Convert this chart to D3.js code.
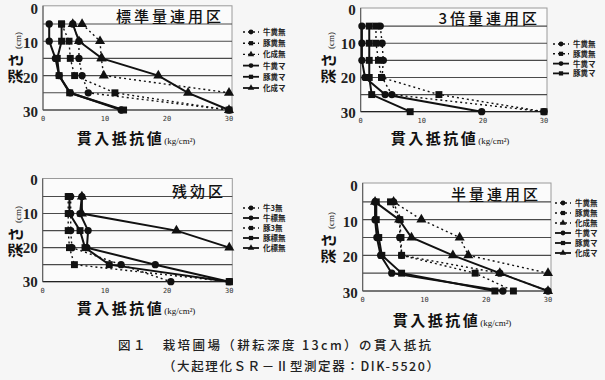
<!DOCTYPE html>
<html><head><meta charset="utf-8">
<script src="https://cdn.jsdelivr.net/npm/d3@7"></script>
<style>
html,body{margin:0;padding:0;background:#f6f6f6;}
svg{display:block;}
</style></head>
<body>
<svg id="c" width="605" height="380"></svg>
<script>
// ---------------- DATA ----------------
const depths = [5, 10, 15, 20, 25, 30];
const yTicks = [0, 10, 20, 30];
const xTicks = [0, 10, 20, 30];
const gridDepths = [5, 10, 15, 20, 25];

// Panel 1: 標準量連用区
const p1Title = "標準量連用区";
const p1Names = ["牛糞無", "豚糞無", "化成無", "牛糞マ", "豚糞マ", "化成マ"];
const p1CowNone  = [4.8, 5.8, 5.8, 6.3, 7.3, 30];
const p1PigNone  = [3.0, 4.2, 4.4, 5.1, 11.6, 30];
const p1ChemNone = [6.3, 9.2, 9.4, 9.8, 30, null];
const p1CowMulch = [1.0, 1.0, 2.0, 2.6, 4.4, 12.6];
const p1PigMulch = [3.0, 3.0, 2.3, 2.6, 4.3, 13.0];
const p1ChemMulch= [4.8, 5.8, 9.5, 18.6, 23.4, 30];

// Panel 2: 3倍量連用区
const p2Title = "3倍量連用区";
const p2Names = ["牛糞無", "豚糞無", "牛糞マ", "豚糞マ"];
const p2CowNone  = [3.2, 3.5, 3.7, 3.5, 5.1, 30];
const p2PigNone  = [2.5, 2.5, 2.9, 3.4, 12.8, 30];
const p2CowMulch = [0.2, 0.2, 0.2, 0.7, 4.0, 19.8];
const p2PigMulch = [1.4, 1.4, 1.4, 1.4, 1.8, 8.1];

// Panel 3: 残効区
const p3Title = "残効区";
const p3Names = ["牛3無", "牛標無", "豚3無", "豚標無", "化標無"];
const p3Cow3  = [4.5, 4.5, 4.5, 4.7, 12.6, 20.6];
const p3CowStd= [6.3, 6.0, 7.3, 7.1, 18.1, 30];
const p3Pig3  = [4.1, 4.1, 4.1, 4.3, 5.1, 30];
const p3PigStd= [4.3, 4.3, 6.0, 6.8, 10.7, 30];
const p3ChemStd=[6.3, 6.3, 21.5, 30, null, null];

// Panel 4: 半量連用区
const p4Title = "半量連用区";
const p4Names = ["牛糞無", "豚糞無", "化成無", "牛糞マ", "豚糞マ", "化成マ"];
const p4CowNone  = [5.0, 6.0, 6.0, 6.3, 22.2, 30];
const p4PigNone  = [4.5, 6.0, 6.2, 6.3, 18.2, 24.4];
const p4ChemNone = [5.0, 9.5, 15.7, 17.1, 30, null];
const p4CowMulch = [2.0, 2.0, 2.3, 2.9, 4.7, 22.7];
const p4PigMulch = [2.2, 2.2, 2.6, 3.1, 6.3, 21.4];
const p4ChemMulch= [2.0, 5.9, 7.9, 14.6, 22.2, 30];

const xTitle = "貫入抵抗値";
const xUnit = "(kg/cm²)";
const yTitle = "深さ";
const yUnit = "(cm)";
const caption1 = "図１　栽培圃場（耕耘深度 13cm）の貫入抵抗";
const caption2 = "（大起理化ＳＲ－Ⅱ型測定器：DIK-5520）";

// ---------------- STYLE / LAYOUT ----------------
const svg = d3.select("#c");
svg.append("rect").attr("width", 605).attr("height", 380).attr("fill", "#f6f6f6");

const JP = "'Noto Sans CJK JP', 'Noto Sans', sans-serif";
const SERIF = "'Liberation Serif', 'DejaVu Serif', serif";

function symType(shape) {
  return shape === "circle" ? d3.symbolCircle : shape === "square" ? d3.symbolSquare : d3.symbolTriangle;
}
function sym(shape) {
  const s = shape === "circle" ? 42 : shape === "square" ? 48 : 44;
  return d3.symbol().type(symType(shape)).size(s)();
}

function panel(cfg) {
  const g = svg.append("g");
  const x = d3.scaleLinear().domain([0, 30]).range([cfg.x0, cfg.x1]);
  const y = d3.scaleLinear().domain([0, 30]).range([cfg.yTop, cfg.yBot]);

  // plot frame
  g.append("rect").attr("x", cfg.x0).attr("y", cfg.yTop - 1)
    .attr("width", cfg.x1 - cfg.x0 + 3).attr("height", cfg.yBot - cfg.yTop + 1)
    .attr("fill", "#fbfbfb").attr("stroke", "#9a9a9a").attr("stroke-width", 1);
  // gridlines
  g.selectAll(".grid").data(gridDepths).join("line")
    .attr("x1", cfg.x0).attr("x2", cfg.x1 + 3)
    .attr("y1", d => y(d)).attr("y2", d => y(d))
    .attr("stroke", "#4a4a4a").attr("stroke-width", 1.1);
  // axes lines
  g.append("line").attr("x1", cfg.x0).attr("x2", cfg.x1 + 3).attr("y1", y(30)).attr("y2", y(30))
    .attr("stroke", "#222").attr("stroke-width", 1.2);
  g.append("line").attr("x1", cfg.x0).attr("x2", cfg.x0).attr("y1", cfg.yTop - 1).attr("y2", y(30))
    .attr("stroke", "#555").attr("stroke-width", 1);

  // y tick labels
  g.selectAll(".yl").data(yTicks).join("text")
    .attr("x", cfg.x0 - 5).attr("y", d => y(d) + 5 + (cfg.yLabDy || 0))
    .attr("text-anchor", "end").attr("font-family", SERIF).attr("font-weight", "bold")
    .attr("font-size", 15).attr("fill", "#222").text(d => d);
  // x tick labels
  g.selectAll(".xl").data(xTicks).join("text")
    .attr("x", d => x(d)).attr("y", y(30) + 11)
    .attr("text-anchor", "middle").attr("font-family", "'DejaVu Sans Mono', monospace")
    .attr("font-size", 7).attr("fill", "#333").text(d => d);

  // x title
  const xt = g.append("text").attr("x", cfg.xtX).attr("y", cfg.xtY)
    .attr("text-anchor", "middle").attr("fill", "#111").attr("font-family", JP);
  xt.append("tspan").attr("font-size", 15).attr("font-weight", "bold").attr("letter-spacing", 2.5).text(xTitle);
  xt.append("tspan").attr("font-size", 9).attr("font-family", SERIF).text(xUnit);

  // y title (rotated)
  const yt = g.append("text").attr("transform", `translate(${cfg.ytX},${cfg.ytY}) rotate(-90)`)
    .attr("text-anchor", "middle").attr("fill", "#111").attr("font-family", JP);
  yt.append("tspan").attr("font-size", 15).attr("font-weight", "bold").attr("letter-spacing", 1).text(yTitle);
  yt.append("tspan").attr("font-size", 9).attr("dx", 3).attr("font-family", SERIF).text(yUnit);

  // panel title
  g.append("text").attr("x", cfg.titleX).attr("y", cfg.titleY)
    .attr("text-anchor", "end").attr("font-family", JP).attr("font-size", 15)
    .attr("font-weight", 500).attr("letter-spacing", 3).attr("fill", "#111").text(cfg.title);

  // series
  const line = d3.line().defined(d => d.v != null).x(d => x(d.v)).y(d => y(d.d));
  cfg.series.forEach(s => {
    const pts = depths.map((d, i) => ({ d: d, v: s.values[i] }));
    g.append("path").datum(pts).attr("d", line).attr("fill", "none")
      .attr("stroke", "#111")
      .attr("stroke-width", s.dash ? 1.4 : 2)
      .attr("stroke-dasharray", s.dash ? "2,3" : null);
  });
  cfg.series.forEach(s => {
    const pts = depths.map((d, i) => ({ d: d, v: s.values[i] })).filter(p => p.v != null);
    g.selectAll(null).data(pts).join("path")
      .attr("transform", p => `translate(${x(p.v)},${y(p.d)})`)
      .attr("d", sym(s.shape)).attr("fill", "#111");
  });

  // legend
  cfg.series.forEach((s, i) => {
    const ly = cfg.legY + i * cfg.legDy;
    const lx = cfg.legX;
    g.append("line").attr("x1", lx).attr("x2", lx + 16).attr("y1", ly).attr("y2", ly)
      .attr("stroke", "#111").attr("stroke-width", s.dash ? 1.4 : 1.8)
      .attr("stroke-dasharray", s.dash ? "2,3" : null);
    g.append("path").attr("transform", `translate(${lx + 8},${ly})`)
      .attr("d", d3.symbol().type(symType(s.shape)).size(18)())
      .attr("fill", "#111");
    g.append("text").attr("x", lx + 20).attr("y", ly + 3)
      .attr("font-family", JP).attr("font-size", 7.5).attr("font-weight", "bold")
      .attr("fill", "#222").text(s.name);
  });
}

const shapes6 = ["circle", "square", "triangle", "circle", "square", "triangle"];
const dash6 = [true, true, true, false, false, false];

panel({
  title: p1Title, x0: 43, x1: 229, yTop: 6.8, yBot: 110, yLabDy: 2,
  titleX: 224, titleY: 22, xtX: 136, xtY: 144, ytX: 21, ytY: 58,
  legX: 243, legY: 32, legDy: 11.2,
  series: [p1CowNone, p1PigNone, p1ChemNone, p1CowMulch, p1PigMulch, p1ChemMulch]
    .map((v, i) => ({ name: p1Names[i], values: v, shape: shapes6[i], dash: dash6[i] }))
});

panel({
  title: p2Title, x0: 360.7, x1: 544, yTop: 9, yBot: 111.7, yLabDy: 1,
  titleX: 540, titleY: 24, xtX: 450, xtY: 144, ytX: 334, ytY: 58,
  legX: 553, legY: 44, legDy: 9.8,
  series: [p2CowNone, p2PigNone, p2CowMulch, p2PigMulch]
    .map((v, i) => ({ name: p2Names[i], values: v, shape: ["circle", "square", "circle", "square"][i], dash: [true, true, false, false][i] }))
});

panel({
  title: p3Title, x0: 42.7, x1: 229.3, yTop: 179.5, yBot: 281.7, yLabDy: 0,
  titleX: 226, titleY: 197, xtX: 136, xtY: 314, ytX: 21, ytY: 232,
  legX: 243, legY: 208, legDy: 10,
  series: [p3Cow3, p3CowStd, p3Pig3, p3PigStd, p3ChemStd]
    .map((v, i) => ({ name: p3Names[i], values: v, shape: ["circle", "circle", "square", "square", "triangle"][i], dash: [true, false, true, false, false][i] }))
});

panel({
  title: p4Title, x0: 362.7, x1: 548, yTop: 184, yBot: 291, yLabDy: 2,
  titleX: 541, titleY: 200, xtX: 452, xtY: 326, ytX: 334, ytY: 238,
  legX: 555, legY: 203, legDy: 10,
  series: [p4CowNone, p4PigNone, p4ChemNone, p4CowMulch, p4PigMulch, p4ChemMulch]
    .map((v, i) => ({ name: p4Names[i], values: v, shape: shapes6[i], dash: dash6[i] }))
});

// captions
svg.append("text").attr("x", 118).attr("y", 350).attr("font-family", JP)
  .attr("font-size", 12.5).attr("font-weight", 500).attr("letter-spacing", 2.4).attr("fill", "#222").text(caption1);
svg.append("text").attr("x", 163).attr("y", 371).attr("font-family", JP)
  .attr("font-size", 12.5).attr("font-weight", 500).attr("letter-spacing", 1.6).attr("fill", "#222").text(caption2);
</script>
</body></html>
